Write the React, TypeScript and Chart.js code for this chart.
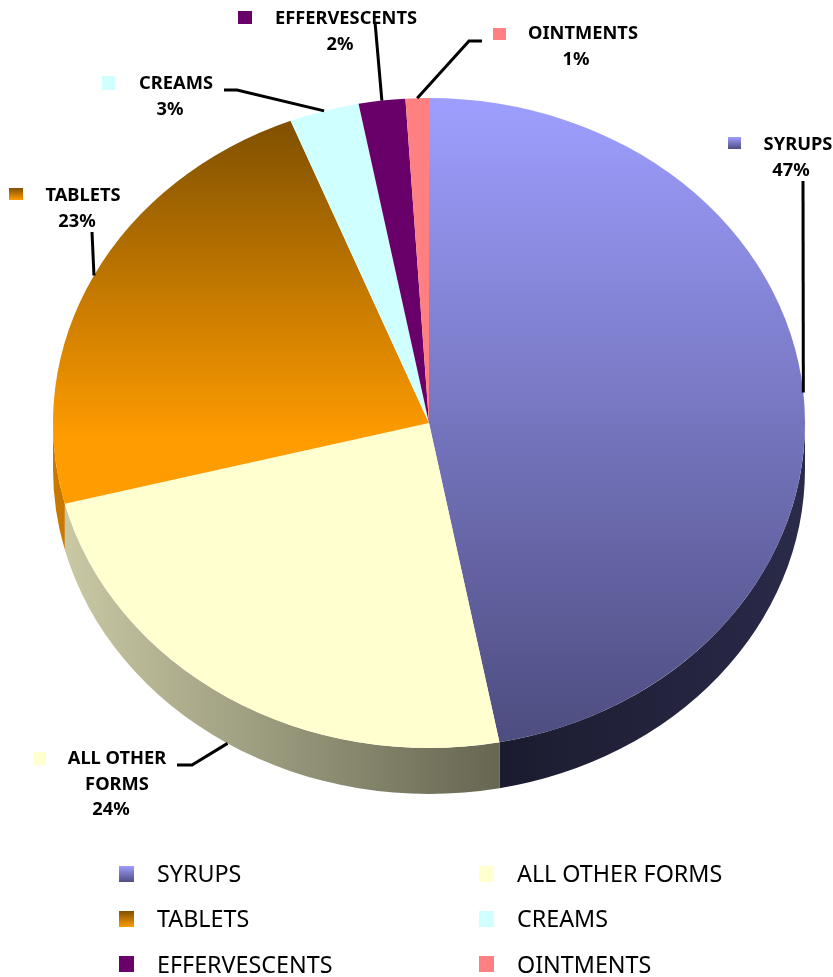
import React, { useEffect, useRef } from "react";
import { Chart, registerables } from "chart.js";

Chart.register(...registerables);

const categories = ["SYRUPS", "ALL OTHER FORMS", "TABLETS", "CREAMS", "EFFERVESCENTS", "OINTMENTS"];
const shares = [47, 24, 23, 3, 2, 1];
const legendOrder = [
  ["SYRUPS", "ALL OTHER FORMS"],
  ["TABLETS", "CREAMS"],
  ["EFFERVESCENTS", "OINTMENTS"],
];

// Top-face colour of each slice: [from, to] runs a vertical gradient, one entry is flat.
const faceColors = [
  ["#9E9EFF", "#4D4D80"],
  ["#FFFFD0"],
  ["#7F5000", "#FF9C00"],
  ["#CFFFFF"],
  ["#690069"],
  ["#FF8080"],
];
// Rim colour of each slice, left to right.
const rimColors = [
  ["#1B1B2F", "#2A2A4A"],
  ["#C8C8A4", "#646450"],
  ["#C87800", "#C87800"],
];

// Pie geometry on the page.
const CENTER_X = 429;
const CENTER_Y = 423;
const RADIUS = 376;
const TILT = 325 / 376;
const DEPTH = 46;

const LABEL_FONT = "bold 18.3px 'Noto Sans'";
const LEGEND_FONT = "23.3px 'Noto Sans'";
const LABEL_LINE = 25.5;

// Where each callout sits: text centre, swatch box and the elbow of its leader line.
const callouts = [
  { lines: ["SYRUPS"], cx: 798, y: 145, box: [728, 137, 13, 12], knee: [[803, 181]] },
  { lines: ["ALL OTHER", "FORMS"], cx: 117, y: 759, box: [33, 752, 13, 13], knee: [[177, 765], [192, 765]] },
  { lines: ["TABLETS"], cx: 83, y: 196, box: [9, 188, 14, 12], knee: [[92, 232]] },
  { lines: ["CREAMS"], cx: 176, y: 84, box: [102, 76, 13, 14], knee: [[224, 90], [237, 90]] },
  { lines: ["EFFERVESCENTS"], cx: 346, y: 19, box: [238, 11, 14, 13], knee: [[375, 22]] },
  { lines: ["OINTMENTS"], cx: 583, y: 34, box: [493, 28, 13, 12], knee: [[482, 41], [469, 41]] },
];
// The percent line is centred a little left of the name on these callouts.
const percentShift = [-7, -6, -6, -6, -6, -7];

const LEGEND_COLUMNS = [119, 479];
const LEGEND_TEXT_GAP = 38;
const LEGEND_ROWS = [875, 920, 966];
const LEGEND_SWATCH_ROWS = [874, 919, 964];
const LEGEND_BOX = [15, 16];

function verticalFill(ctx: CanvasRenderingContext2D, colors: string[], top: number, bottom: number) {
  if (colors.length === 1) return colors[0];
  const g = ctx.createLinearGradient(0, top, 0, bottom);
  g.addColorStop(0, colors[0]);
  g.addColorStop(1, colors[1]);
  return g;
}

// Canvas y for a page y, since the face is drawn squashed about the centre.
const unsquash = (y: number) => CENTER_Y + (y - CENTER_Y) / TILT;

const faceSpan = [
  [98, 742],
  [98, 747],
  [120, 440],
  [98, 747],
  [98, 747],
  [98, 747],
];

const pieStage = {
  id: "pieStage",
  beforeDatasetsDraw(chart: any) {
    const { ctx } = chart;
    const arcs = chart.getDatasetMeta(0).data;
    const ry = RADIUS * TILT;
    // Rim: only the front half of the pie shows its thickness.
    arcs.forEach((arc: any, i: number) => {
      const from = Math.max(arc.startAngle, 0);
      const to = Math.min(arc.endAngle, Math.PI);
      if (to <= from || !rimColors[i]) return;
      const g = ctx.createLinearGradient(
        i === 0 ? CENTER_X + RADIUS * Math.cos(arc.endAngle) : CENTER_X - RADIUS * 0.96,
        0,
        i === 0 ? CENTER_X + RADIUS : CENTER_X + RADIUS * 0.21,
        0,
      );
      g.addColorStop(0, rimColors[i][0]);
      g.addColorStop(1, rimColors[i][1]);
      ctx.beginPath();
      ctx.ellipse(CENTER_X, CENTER_Y, RADIUS, ry, 0, from, to);
      ctx.ellipse(CENTER_X, CENTER_Y + DEPTH, RADIUS, ry, 0, to, from, true);
      ctx.closePath();
      ctx.fillStyle = g;
      ctx.fill();
    });
    ctx.save();
    ctx.translate(CENTER_X, CENTER_Y);
    ctx.scale(1, TILT);
    ctx.translate(-CENTER_X, -CENTER_Y);
  },
  afterDatasetsDraw(chart: any) {
    const { ctx } = chart;
    ctx.restore();
    const arcs = chart.getDatasetMeta(0).data;
    const ry = RADIUS * TILT;

    ctx.textAlign = "center";
    ctx.textBaseline = "middle";

    callouts.forEach((c, i) => {
      const arc = arcs[i];
      const mid = (arc.startAngle + arc.endAngle) / 2;
      const endX = CENTER_X + RADIUS * Math.cos(mid);
      const sinMid = Math.sin(mid);
      const endY = CENTER_Y + ry * sinMid + (sinMid > 0.3 ? DEPTH : 0);

      // Leader line from the text to the middle of the slice's edge.
      ctx.beginPath();
      c.knee.forEach(([x, y], k) => (k ? ctx.lineTo(x, y) : ctx.moveTo(x, y)));
      ctx.lineTo(endX, endY);
      ctx.strokeStyle = "#000";
      ctx.lineWidth = 3;
      ctx.stroke();

      const [bx, by, bw, bh] = c.box;
      ctx.fillStyle = verticalFill(ctx, faceColors[i], by, by + bh);
      ctx.fillRect(bx, by, bw, bh);

      ctx.font = LABEL_FONT;
      ctx.fillStyle = "#000";
      c.lines.forEach((line, k) => ctx.fillText(line, c.cx, c.y + k * LABEL_LINE));
      ctx.fillText(`${shares[i]}%`, c.cx + percentShift[i], c.y + c.lines.length * LABEL_LINE);
    });

    // Two-column key under the pie.
    legendOrder.forEach((row, r) => {
      row.forEach((name, col) => {
        const i = categories.indexOf(name);
        const x = LEGEND_COLUMNS[col];
        const [w, h] = LEGEND_BOX;
        const sy = LEGEND_SWATCH_ROWS[r];
        ctx.fillStyle = verticalFill(ctx, faceColors[i], sy - h / 2, sy + h / 2);
        ctx.fillRect(x, sy - h / 2, w, h);
        ctx.font = LEGEND_FONT;
        ctx.textAlign = "left";
        ctx.fillStyle = "#000";
        ctx.fillText(name, x + LEGEND_TEXT_GAP, LEGEND_ROWS[r]);
      });
    });
  },
};

export default function App() {
  const ref = useRef<HTMLCanvasElement>(null);

  useEffect(() => {
    if (!ref.current) return;
    const chart = new Chart(ref.current, {
      type: "pie",
      data: {
        labels: categories,
        datasets: [
          {
            data: shares,
            borderWidth: 0,
            backgroundColor: (c: any) => {
              const i = c.dataIndex ?? 0;
              const [top, bottom] = faceSpan[i];
              return verticalFill(c.chart.ctx, faceColors[i], unsquash(top), unsquash(bottom));
            },
          },
        ],
      },
      options: {
        animation: false,
        responsive: false,
        layout: {
          padding: {
            left: CENTER_X - RADIUS,
            right: 833 - CENTER_X - RADIUS,
            top: CENTER_Y - RADIUS,
            bottom: 977 - CENTER_Y - RADIUS,
          },
        },
        plugins: { legend: { display: false }, tooltip: { enabled: false } },
      },
      plugins: [pieStage],
    });
    return () => chart.destroy();
  }, []);

  return (
    <div style={{ position: "absolute", left: 0, top: 0, width: 833, height: 977, background: "#fff" }}>
      <canvas ref={ref} width={833} height={977} style={{ display: "block" }} />
    </div>
  );
}
